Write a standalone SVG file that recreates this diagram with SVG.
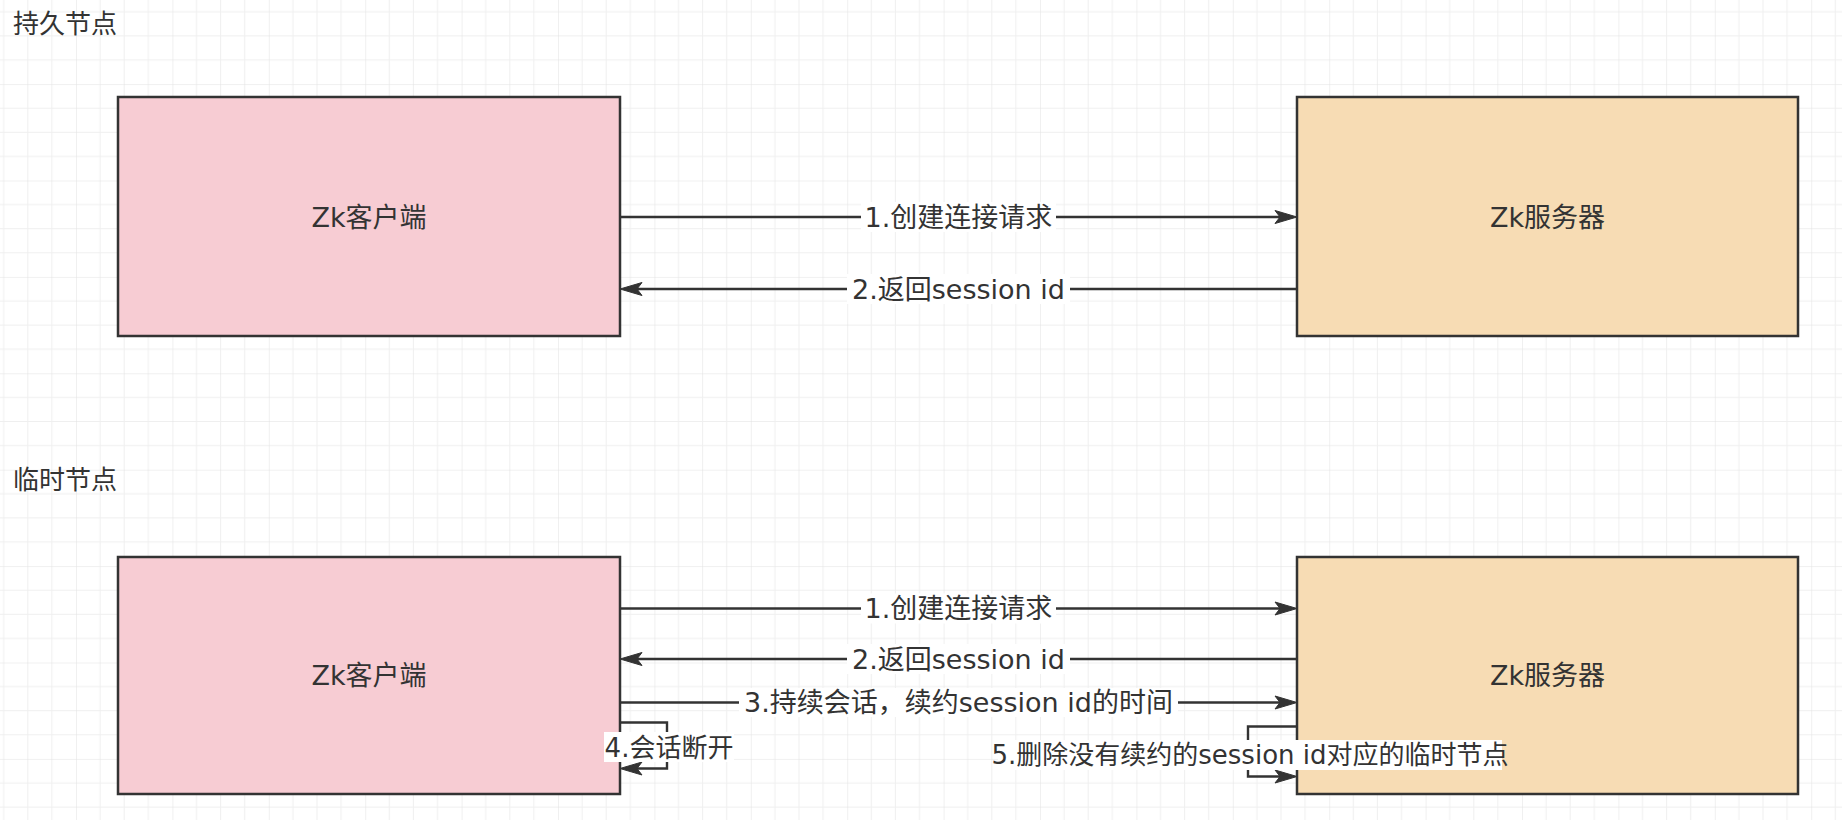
<svg xmlns="http://www.w3.org/2000/svg" width="1842" height="820" viewBox="0 0 1842 820">
  <style>
    .t { font-family: "DejaVu Sans", "Noto Sans CJK SC", sans-serif; fill: #333333; }
    .title { font-size: 26px; }
    .box-label { font-size: 27px; text-anchor: middle; dominant-baseline: central; }
    .edge-label { font-size: 27px; text-anchor: middle; dominant-baseline: central; }
    .loop-label { font-size: 26px; text-anchor: middle; dominant-baseline: central; }
    .client { fill: #f7ccd3; stroke: #333333; stroke-width: 2.5; }
    .server { fill: #f7dcb4; stroke: #333333; stroke-width: 2.5; }
    .edge { fill: none; stroke: #333333; stroke-width: 2.4; marker-end: url(#arrow); }
    .lbg { fill: #ffffff; }
  </style>
  <defs>
    <pattern id="grid" patternUnits="userSpaceOnUse" x="76" y="84.1" width="96.4" height="96.4">
      <path d="M24.1 0 V96.4 M48.2 0 V96.4 M72.3 0 V96.4 M0 24.1 H96.4 M0 48.2 H96.4 M0 72.3 H96.4" stroke="#efefef" stroke-width="1" fill="none"/>
      <path d="M0 0 V96.4 M0 0 H96.4" stroke="#e2e2e2" stroke-width="1" fill="none"/>
    </pattern>
    <marker id="arrow" markerUnits="userSpaceOnUse" markerWidth="24" markerHeight="15" refX="5" refY="6.5" orient="auto" overflow="visible">
      <path d="M0,0 L22,6.5 L0,13 L5,6.5 Z" fill="#333333" stroke="#333333" stroke-width="1" stroke-linejoin="miter"/>
    </marker>
  </defs>

  <rect x="0" y="0" width="1842" height="820" fill="#ffffff"/>
  <rect x="0" y="0" width="1842" height="820" fill="url(#grid)"/>

  <text id="title-persistent" class="t title" x="13" y="24" dominant-baseline="central">持久节点</text>
  <text id="title-ephemeral" class="t title" x="13" y="480" dominant-baseline="central">临时节点</text>

  <g id="client-top">
    <rect class="client" x="118" y="97" width="502" height="239"/>
    <text class="t box-label" x="369" y="217">Zk客户端</text>
  </g>
  <g id="server-top">
    <rect class="server" x="1297" y="97" width="501" height="239"/>
    <text class="t box-label" x="1547.5" y="217">Zk服务器</text>
  </g>
  <g id="client-bottom">
    <rect class="client" x="118" y="557" width="502" height="237"/>
    <text class="t box-label" x="369" y="675">Zk客户端</text>
  </g>
  <g id="server-bottom">
    <rect class="server" x="1297" y="557" width="501" height="237"/>
    <text class="t box-label" x="1547.5" y="675">Zk服务器</text>
  </g>

  <g id="connectors">
    <!-- top section -->
    <path class="edge" d="M620,217 H1280"/>
    <rect class="lbg" x="861" y="202" width="195" height="30"/>
    <text class="t edge-label" x="958.5" y="217">1.创建连接请求</text>

    <path class="edge" d="M1297,289 H637"/>
    <rect class="lbg" x="847" y="274" width="223" height="30"/>
    <text class="t edge-label" x="958.5" y="289">2.返回session id</text>

    <!-- bottom section -->
    <path class="edge" d="M620,608.5 H1280"/>
    <rect class="lbg" x="861" y="593.5" width="195" height="30"/>
    <text class="t edge-label" x="958.5" y="608.5">1.创建连接请求</text>

    <path class="edge" d="M1297,659 H637"/>
    <rect class="lbg" x="847" y="644" width="223" height="30"/>
    <text class="t edge-label" x="958.5" y="659">2.返回session id</text>

    <path class="edge" d="M620,702.5 H1280"/>
    <rect class="lbg" x="739" y="688" width="439" height="29"/>
    <text class="t edge-label" x="958.5" y="702.5">3.持续会话，续约session id的时间</text>

    <path class="edge" d="M620,722.5 H667 V768.5 H637"/>
    <rect class="lbg" x="604" y="732" width="130" height="30"/>
    <text class="t loop-label" x="669" y="747.5">4.会话断开</text>

    <path class="edge" d="M1297,726.5 H1248 V776.5 H1280"/>
    <rect class="lbg" x="998" y="740" width="504" height="30"/>
    <text class="t loop-label" x="1250" y="755">5.删除没有续约的session id对应的临时节点</text>
  </g>
</svg>
